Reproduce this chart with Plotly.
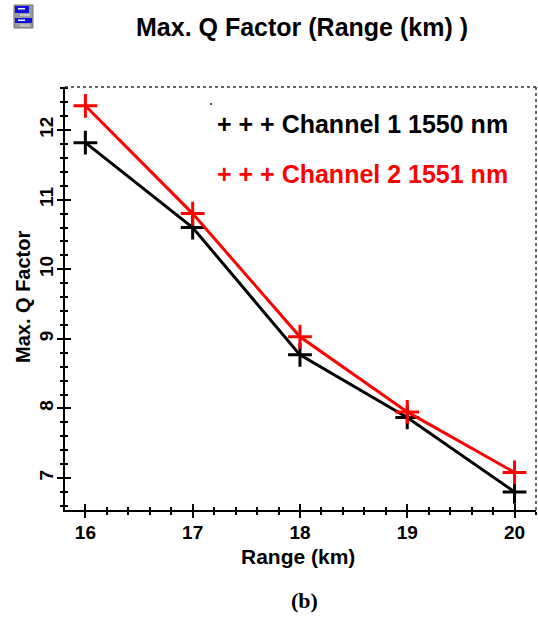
import plotly.graph_objects as go

W, H = 538, 619
L, R, T, B = 65, 536, 87, 510

range_km = [16, 17, 18, 19, 20]
channel_1 = [11.82, 10.6, 8.77, 7.87, 6.8]
channel_2 = [12.35, 10.8, 9.03, 7.95, 7.08]
x_ticks = [16, 17, 18, 19, 20]
y_ticks = [7, 8, 9, 10, 11, 12]
x_range = [15.81, 20.2]
y_range = [6.54, 12.62]

BLACK, RED = "#000000", "#ff0000"
SANS = "Liberation Sans, Arial, sans-serif"


def px(x):
    return (x - L) / (R - L)


def py(y):
    return (B - y) / (B - T)


fig = go.Figure()
for name, vals, col in [("Channel 1 1550 nm", channel_1, BLACK), ("Channel 2 1551 nm", channel_2, RED)]:
    fig.add_trace(go.Scatter(
        x=range_km, y=vals, name=name, mode="lines+markers",
        line=dict(color=col, width=3),
        marker=dict(symbol="cross-thin", size=17, line=dict(color=col, width=3), color=col),
        cliponaxis=False,
    ))
# helper trace keeps the overlaid axes (inner half of the crossing ticks) on the page
fig.add_trace(go.Scatter(x=range_km, y=channel_1, xaxis="x2", yaxis="y2", mode="lines",
                         line=dict(width=0), opacity=0, hoverinfo="skip", showlegend=False))

common_ticks = dict(ticks="outside", ticklen=6, tickwidth=2, tickcolor=BLACK, showline=True,
                    linecolor=BLACK, linewidth=2, showgrid=False, zeroline=False)
fig.update_layout(
    width=W, height=H, paper_bgcolor="white", plot_bgcolor="white", showlegend=False,
    margin=dict(l=L, r=W - R, t=T, b=H - B),
    xaxis=dict(domain=[0, 1], range=x_range, tickvals=x_ticks,
               minor=dict(dtick=0.2, tick0=16, ticks="outside", ticklen=3, tickwidth=1.5, tickcolor=BLACK),
               tickfont=dict(family=SANS, size=19, color=BLACK, weight="bold"),
               ticklabelstandoff=-2,
               **common_ticks),
    yaxis=dict(domain=[0, 1], range=y_range, tickvals=y_ticks, tickangle=-90,
               minor=dict(dtick=0.2, tick0=7, ticks="outside", ticklen=3, tickwidth=1.5, tickcolor=BLACK),
               tickfont=dict(family=SANS, size=19, color=BLACK, weight="bold"),
               ticklabelstandoff=-4,
               **common_ticks),
    xaxis2=dict(overlaying="x", range=x_range, tickvals=x_ticks, ticks="inside", ticklen=6, tickwidth=2,
                tickcolor=BLACK, showticklabels=False, showgrid=False, zeroline=False, showline=False,
                minor=dict(dtick=0.2, tick0=16, ticks="inside", ticklen=3, tickwidth=1.5, tickcolor=BLACK),
                anchor="y2"),
    yaxis2=dict(overlaying="y", range=y_range, tickvals=y_ticks, ticks="inside", ticklen=6, tickwidth=2,
                tickcolor=BLACK, showticklabels=False, showgrid=False, zeroline=False, showline=False,
                minor=dict(dtick=0.2, tick0=7, ticks="inside", ticklen=3, tickwidth=1.5, tickcolor=BLACK),
                anchor="x2"),
)


def note(text, x, y, size, color=BLACK, family=SANS, angle=0, xanchor="center"):
    fig.add_annotation(text=text, x=px(x), y=py(y), xref="paper", yref="paper", showarrow=False,
                       font=dict(family=family, size=size, color=color), textangle=angle,
                       xanchor=xanchor, yanchor="middle")


note("<b>Max. Q Factor (Range (km) )</b>", 302, 27, 25)
note("<b>Range (km)</b>", 298, 556, 21)
note("<b>Max. Q Factor</b>", 23, 297, 20, angle=-90)
note("<b>+ + + Channel 1 1550 nm</b>", 215, 124, 25, xanchor="left")
note("<b>+ + + Channel 2 1551 nm</b>", 215, 174, 25, color=RED, xanchor="left")
note("<b>(b)</b>", 304, 600, 22, family="Liberation Serif, Times New Roman, serif")


def rect(x0, y0, x1, y1, fill, line=None):
    fig.add_shape(type="rect", xref="paper", yref="paper", x0=px(x0), x1=px(x1), y0=py(y0), y1=py(y1),
                  fillcolor=fill, line=dict(width=0 if line is None else 1, color=line or fill))


# dotted top and right frame
for x0, y0, x1, y1 in [(L, T, R, T), (R, T, R, B)]:
    fig.add_shape(type="line", xref="paper", yref="paper", x0=px(x0), x1=px(x1), y0=py(y0), y1=py(y1),
                  line=dict(color="#333333", width=1.5, dash="dot"))
# stray speck
rect(210, 103, 212, 105, "#555555")
# window icon
rect(14, 5, 33, 28, "#9a9a9a", "#777777")
rect(15, 6, 29, 13, "#1010e0")
rect(18, 8, 25, 9.5, "#ffffff")
rect(15, 18, 32, 23, "#1010e0")
rect(18, 19.5, 25, 21, "#ffffff")
rect(20, 14, 30, 16, "#c8c8c8")
rect(20, 24.5, 30, 26.5, "#c8c8c8")

fig.write_html("out.html", config=dict(displayModeBar=False),
               post_script="document.body.style.margin='0';document.body.style.overflow='hidden';")
